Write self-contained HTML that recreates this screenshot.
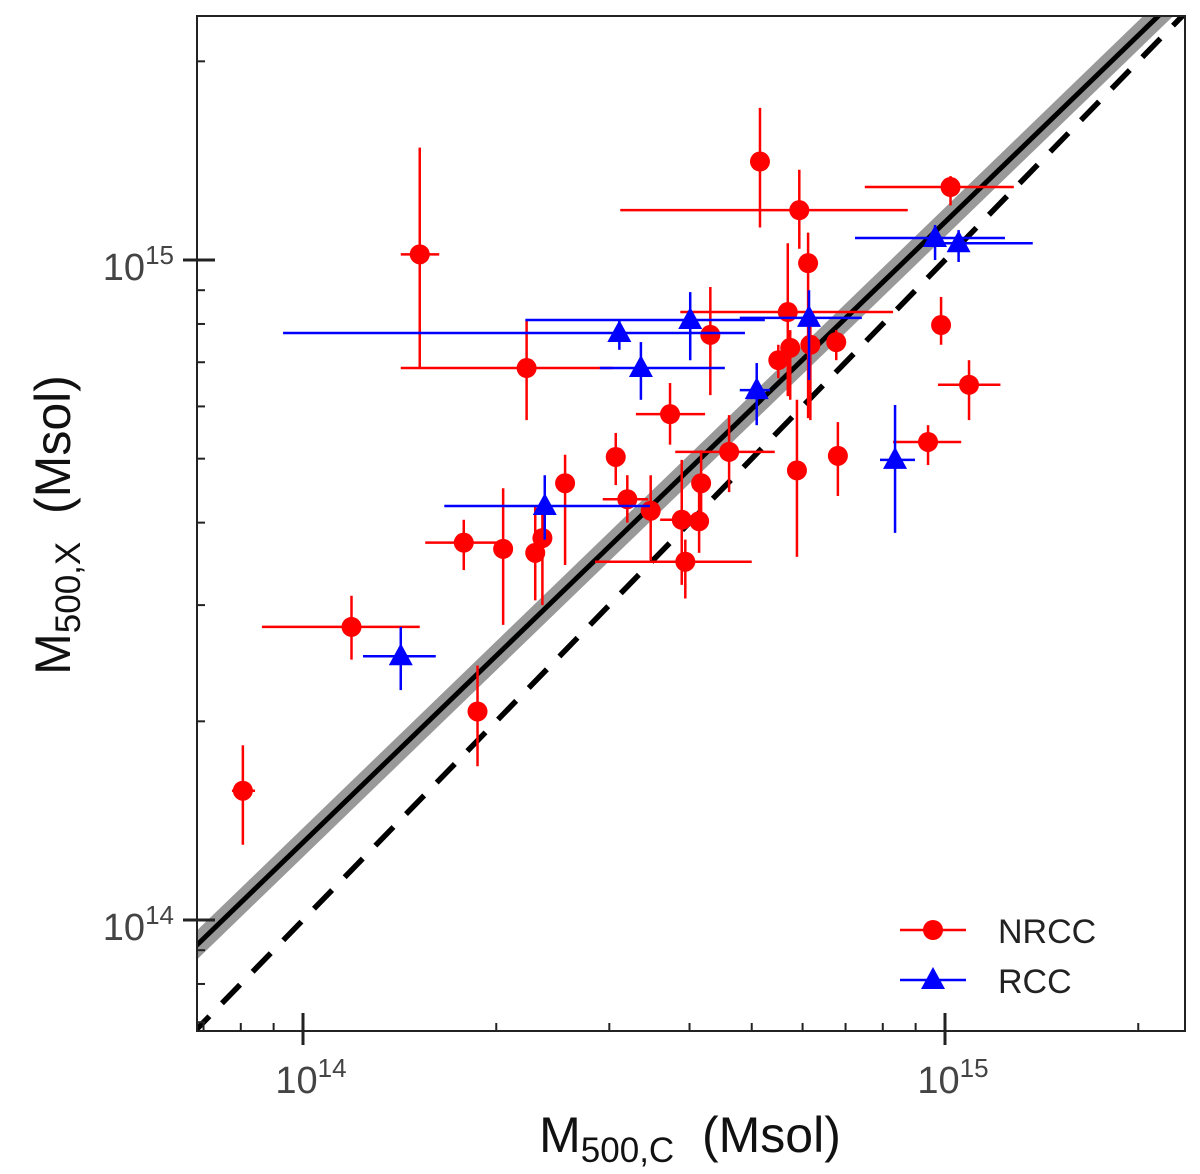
<!DOCTYPE html>
<html><head><meta charset="utf-8"><style>
body{margin:0;background:#fff}
svg{display:block;font-family:"Liberation Sans",Arial,sans-serif}
</style></head><body>
<svg id="chart" width="1200" height="1174" viewBox="0 0 1200 1174">
<defs><clipPath id="clip"><rect x="197" y="16" width="988" height="1015"/></clipPath></defs>
<g id="plot" clip-path="url(#clip)"></g>
<rect x="197" y="16" width="988" height="1015" fill="none" stroke="#222" stroke-width="2"/>
<g id="axes"></g>
<g>
<line x1="900" y1="930" x2="966" y2="930" stroke="#f00" stroke-width="2.5"/>
<circle cx="933" cy="930" r="10" fill="#f00"/>
<text x="998" y="943" font-size="34" fill="#222">NRCC</text>
<line x1="900" y1="980" x2="966" y2="980" stroke="#00f" stroke-width="2.5"/>
<polygon points="933,967 945,989 921,989" fill="#00f"/>
<text x="998" y="993" font-size="34" fill="#222">RCC</text>
</g>
<text x="690" y="1152" font-size="50" text-anchor="middle" fill="#111">M<tspan font-size="35" dy="10">500,C</tspan><tspan dy="-10">&#160;&#160;(Msol)</tspan></text>
<text transform="translate(70,525) rotate(-90)" font-size="50" text-anchor="middle" fill="#111">M<tspan font-size="35" dy="10">500,X</tspan><tspan dy="-10">&#160;&#160;(Msol)</tspan></text>
</svg>
<script>
// values in units of 1e14 Msol
const nrccX   =[0.806,1.19,1.52,1.87,1.78,2.05,2.23,2.30,2.36,2.56,3.07,3.20,3.48,3.73,3.89,3.94,4.14,4.17,4.31,4.61,5.15,5.50,5.69,5.74,5.88,5.93,6.12,6.17,6.77,6.81,9.41,9.86,10.2,10.9];
const nrccXlo =[0.775,0.863,1.42,1.87,1.55,2.05,1.42,2.30,2.36,2.56,3.07,2.93,3.48,3.30,3.60,2.85,4.14,4.17,4.31,3.80,5.15,5.50,3.87,5.74,5.88,3.12,6.12,6.17,6.77,6.81,8.30,9.86,7.50,9.75];
const nrccXhi =[0.842,1.52,1.63,1.87,2.03,2.05,3.04,2.30,2.36,2.56,3.07,3.45,3.48,4.23,4.23,5.00,4.14,4.17,4.31,5.43,5.15,5.50,8.30,5.74,5.88,8.75,6.12,6.17,6.77,6.81,10.6,9.86,12.8,12.2];
const nrccY   =[1.57,2.78,10.2,2.07,3.73,3.65,6.86,3.60,3.79,4.59,5.03,4.34,4.17,5.84,4.04,3.49,4.02,4.59,7.70,5.12,14.1,7.05,8.34,7.36,4.80,11.9,9.89,7.44,7.51,5.05,5.30,7.97,12.9,6.47];
const nrccYlo =[1.30,2.48,6.86,1.71,3.39,2.80,5.72,3.05,3.00,3.45,4.56,4.00,3.51,5.25,3.22,3.07,3.60,4.04,6.24,4.45,11.2,6.62,6.22,6.14,3.55,10.4,5.76,5.72,7.05,4.39,4.89,7.44,12.1,5.72];
const nrccYhi =[1.84,3.10,14.8,2.43,4.04,4.51,8.11,4.25,4.25,5.07,5.47,4.72,4.72,6.51,4.98,3.77,4.48,5.15,9.10,5.82,17.0,7.44,10.6,7.83,6.14,13.7,11.0,7.97,7.83,5.68,5.62,8.79,13.4,7.05];
const rccX   =[1.42,2.38,3.11,3.36,4.01,5.09,6.14,8.36,9.65,10.5];
const rccXlo =[1.24,1.66,0.931,2.90,2.22,4.79,4.79,7.92,7.24,9.48];
const rccXhi =[1.61,3.47,4.88,4.54,5.24,5.34,7.42,8.98,12.4,13.7];
const rccY   =[2.51,4.24,7.75,6.86,8.11,6.35,8.17,4.98,10.8,10.6];
const rccYlo =[2.23,3.77,7.31,6.14,7.05,5.62,6.58,3.86,10.0,9.93];
const rccYhi =[2.78,4.72,8.11,7.51,8.94,6.98,9.00,6.03,11.3,11.1];
const fitSlope=0.94, fitAt=[0.684,0.917], fitBand=0.022;
const xMinorTicks=[0.7,0.8,0.9,2,3,4,5,6,7,8,9,20];
const yMinorTicks=[0.7,0.8,0.9,2,3,4,5,6,7,8,9,20];
const majorTicks=[1,10], majorLabels=['14','15'];

const NS='http://www.w3.org/2000/svg';
const X=v=>303+642*Math.log10(v);
const Y=v=>920-660*Math.log10(v);
const plot=document.getElementById('plot'), axes=document.getElementById('axes');
function mk(tag,attrs,parent){const e=document.createElementNS(NS,tag);for(const k in attrs)e.setAttribute(k,attrs[k]);parent.appendChild(e);return e;}
const fitY=x=>fitAt[1]*Math.pow(x/fitAt[0],fitSlope);
const x0=0.6,x1=30;
const f=Math.pow(10,fitBand);
const band=mk('polygon',{points:`${X(x0)},${Y(fitY(x0)*f)} ${X(x1)},${Y(fitY(x1)*f)} ${X(x1)},${Y(fitY(x1)/f)} ${X(x0)},${Y(fitY(x0)/f)}`,fill:'#999'},plot);


const fl=mk('line',{x1:X(x0),y1:Y(fitY(x0)),x2:X(x1),y2:Y(fitY(x1)),stroke:'#000','stroke-width':5},plot);


const one=mk('line',{x1:X(x0),y1:Y(x0),x2:X(x1),y2:Y(x1),stroke:'#000','stroke-width':5.5,'stroke-dasharray':'26,18'},plot);


function series(xs,xl,xh,ys,yl,yh,color,tri,name){
  for(let i=0;i<xs.length;i++){
    const g=mk('g',{},plot);
    
    
    mk('line',{x1:X(xl[i]),y1:Y(ys[i]),x2:X(xh[i]),y2:Y(ys[i]),stroke:color,'stroke-width':2.5},g);
    mk('line',{x1:X(xs[i]),y1:Y(yl[i]),x2:X(xs[i]),y2:Y(yh[i]),stroke:color,'stroke-width':2.5},g);
    const cx=X(xs[i]),cy=Y(ys[i]);
    if(tri)mk('polygon',{points:`${cx},${cy-13} ${cx+12},${cy+9} ${cx-12},${cy+9}`,fill:color},g);
    else mk('circle',{cx:cx,cy:cy,r:10,fill:color},g);
  }
}
series(nrccX,nrccXlo,nrccXhi,nrccY,nrccYlo,nrccYhi,'#f00',false,'nrcc');
series(rccX,rccXlo,rccXhi,rccY,rccYlo,rccYhi,'#00f',true,'rcc');
for(const v of xMinorTicks){const t=mk('line',{x1:X(v),y1:1031,x2:X(v),y2:1023,stroke:'#222','stroke-width':2},axes);

}
for(const v of yMinorTicks){const t=mk('line',{x1:197,y1:Y(v),x2:205,y2:Y(v),stroke:'#222','stroke-width':2},axes);

}
majorTicks.forEach((v,i)=>{
  const a=mk('line',{x1:X(v),y1:1013,x2:X(v),y2:1045,stroke:'#222','stroke-width':3},axes);
  
  
  const b=mk('line',{x1:183,y1:Y(v),x2:215,y2:Y(v),stroke:'#222','stroke-width':3},axes);
  
  
  const tx=mk('text',{x:X(v)+8,y:1093,'font-size':38,'text-anchor':'middle',fill:'#444'},axes);
  tx.innerHTML='10<tspan font-size="26" dy="-16">'+majorLabels[i]+'</tspan>';
  
  
  const ty=mk('text',{x:174,y:Y(v)+20,'font-size':38,'text-anchor':'end',fill:'#444'},axes);
  ty.innerHTML='10<tspan font-size="26" dy="-16">'+majorLabels[i]+'</tspan>';
  
  
});
</script>
</body></html>
